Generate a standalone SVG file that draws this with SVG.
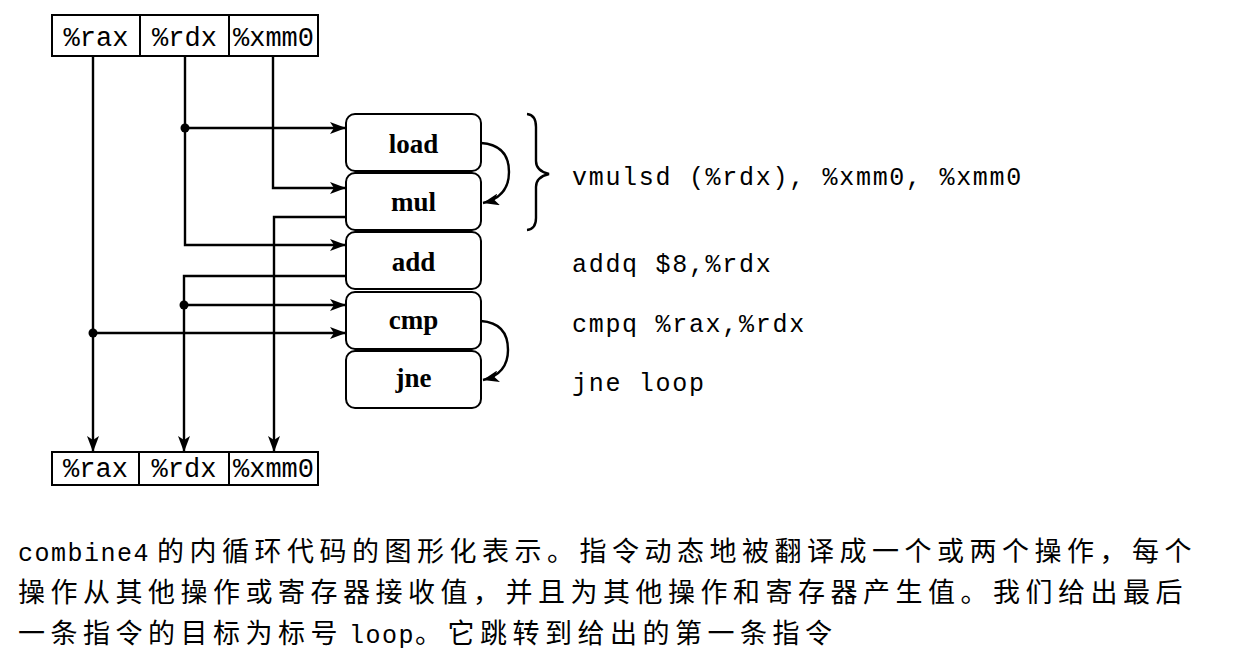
<svg xmlns="http://www.w3.org/2000/svg" width="1233" height="660" viewBox="0 0 1233 660">
<defs>
<style>
.bg{fill:#fff}
.reg{fill:#fff;stroke:#000;stroke-width:2}
.div{stroke:#000;stroke-width:2}
.rt{font-family:"Liberation Mono","DejaVu Sans Mono",monospace;font-size:27px;fill:#000;text-anchor:middle}
.op{fill:#fff;stroke:#000;stroke-width:2}
.ot{font-family:"Liberation Serif","DejaVu Serif",serif;font-weight:bold;font-size:27px;fill:#000;text-anchor:middle}
.ln{fill:none;stroke:#000;stroke-width:2.4}
.dot{fill:#000}
.ins{font-family:"Liberation Mono","DejaVu Sans Mono",monospace;font-size:25px;letter-spacing:1.7px;fill:#000}
.cap{font-family:"Noto Sans CJK SC","Noto Sans",sans-serif;font-size:27px;letter-spacing:5.5px;fill:#000}
.capm{font-family:"Liberation Mono","DejaVu Sans Mono",monospace;font-size:25px;letter-spacing:1.5px}
</style>
<marker id="ah" viewBox="0 0 16 12" refX="16" refY="6" markerWidth="16" markerHeight="12" markerUnits="userSpaceOnUse" orient="auto">
<path d="M0,0 L16,6 L0,12 L4,6 Z" fill="#000"/>
</marker>
</defs>
<rect class="bg" x="0" y="0" width="1233" height="660"/>

<g id="regs-top">
<rect class="reg" x="52" y="15" width="266" height="41"/>
<line class="div" x1="140" y1="15" x2="140" y2="56"/>
<line class="div" x1="229" y1="15" x2="229" y2="56"/>
<text class="rt" x="96" y="46">%rax</text>
<text class="rt" x="184.5" y="46">%rdx</text>
<text class="rt" x="273.5" y="46">%xmm0</text>
</g>

<g id="regs-bottom">
<rect class="reg" x="52" y="452" width="266" height="33"/>
<line class="div" x1="139" y1="452" x2="139" y2="485"/>
<line class="div" x1="229" y1="452" x2="229" y2="485"/>
<text class="rt" x="95.5" y="477">%rax</text>
<text class="rt" x="184" y="477">%rdx</text>
<text class="rt" x="273.5" y="477">%xmm0</text>
</g>

<g id="op-load"><rect class="op" x="346" y="114" width="135" height="57" rx="9"/><text class="ot" x="413.5" y="153">load</text></g>
<g id="op-mul"><rect class="op" x="346" y="173" width="135" height="57" rx="9"/><text class="ot" x="413.5" y="211">mul</text></g>
<g id="op-add"><rect class="op" x="346" y="232" width="135" height="57" rx="9"/><text class="ot" x="413.5" y="271">add</text></g>
<g id="op-cmp"><rect class="op" x="346" y="292" width="135" height="57" rx="9"/><text class="ot" x="413.5" y="329">cmp</text></g>
<g id="op-jne"><rect class="op" x="346" y="351" width="135" height="57" rx="9"/><text class="ot" x="413.5" y="387">jne</text></g>

<g id="connectors">
<path class="ln" d="M185,56 V245 H346" marker-end="url(#ah)"/>
<path class="ln" d="M185,128 H346" marker-end="url(#ah)"/>
<circle class="dot" cx="185" cy="128" r="4.5"/>
<path class="ln" d="M273,56 V188 H346" marker-end="url(#ah)"/>
<path class="ln" d="M346,217 H274 V452" marker-end="url(#ah)"/>
<path class="ln" d="M346,276 H184 V452" marker-end="url(#ah)"/>
<path class="ln" d="M184,305 H346" marker-end="url(#ah)"/>
<circle class="dot" cx="184" cy="305" r="4.5"/>
<path class="ln" d="M93,56 V452" marker-end="url(#ah)"/>
<path class="ln" d="M93,333 H346" marker-end="url(#ah)"/>
<circle class="dot" cx="93" cy="333" r="4.5"/>
<path class="ln" d="M481,143 Q509,145 509,172 Q509,197 483,203" marker-end="url(#ah)"/>
<path class="ln" d="M481,321 Q508,323 508,350 Q508,374 483,380" marker-end="url(#ah)"/>
</g>

<g id="brace">
<path class="ln" d="M527,114 Q536,115 536,127 V161 Q536,171 549,174 Q536,177 536,187 V218 Q536,229 527,230" stroke-width="1.8"/>
</g>

<g id="instructions">
<text class="ins" x="572" y="185">vmulsd (%rdx), %xmm0, %xmm0</text>
<text class="ins" x="572" y="272">addq $8,%rdx</text>
<text class="ins" x="572" y="332">cmpq %rax,%rdx</text>
<text class="ins" x="572" y="391">jne loop</text>
</g>

<g id="caption">
<text class="cap" x="18" y="561"><tspan class="capm">combine4</tspan><tspan dx="7">的内循环代码的图形化表示。指令动态地被翻译成一个或两个操作，每个</tspan></text>
<text class="cap" x="18" y="602">操作从其他操作或寄存器接收值，并且为其他操作和寄存器产生值。我们给出最后</text>
<text class="cap" x="18" y="643">一条指令的目标为标号<tspan class="capm" dx="6">loop</tspan><tspan>。它跳转到给出的第一条指令</tspan></text>
</g>
</svg>
